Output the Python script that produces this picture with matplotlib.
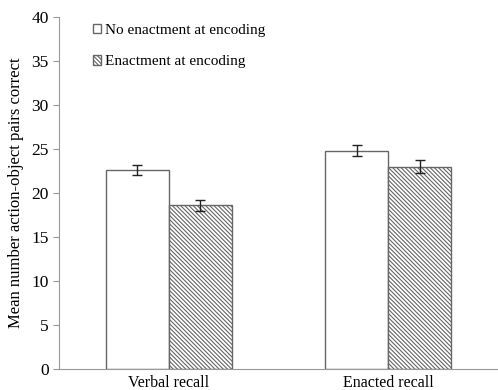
import numpy as np
import matplotlib.pyplot as plt

plt.rcParams['font.family'] = ['Liberation Serif', 'DejaVu Serif']
plt.rcParams['hatch.linewidth'] = 0.8
plt.rcParams['hatch.color'] = '#555555'

# data
categories = ['Verbal recall', 'Enacted recall']
no_enact = [22.6, 24.8]
no_enact_err = [0.6, 0.6]
enact = [18.6, 23.0]
enact_err = [0.6, 0.7]

fig = plt.figure(figsize=(4.98, 3.9), dpi=100)
ax = fig.add_axes([59/498, 21/390, 439/498, 352/390])

x = np.arange(len(categories))
w = 0.286
ax.bar(x - w/2, no_enact, w, yerr=no_enact_err, color='white', edgecolor='#666666',
       linewidth=1.0, label='No enactment at encoding',
       error_kw=dict(ecolor='#222222', elinewidth=1.0, capsize=3.5, capthick=1.0))
ax.bar(x + w/2, enact, w, yerr=enact_err, color='white', edgecolor='#666666',
       hatch='\\' * 8, linewidth=1.0, label='Enactment at encoding',
       error_kw=dict(ecolor='#222222', elinewidth=1.0, capsize=3.5, capthick=1.0))

ax.set_xlim(-0.5, 1.5)
ax.set_ylim(0, 40)
ax.set_yticks(range(0, 41, 5))
ax.set_xticks(x)
ax.set_xticklabels(categories, fontsize=11.5)
ax.tick_params(axis='x', length=0, pad=4)
ax.tick_params(axis='y', labelsize=12.5, length=4, color='#999999', direction='out')
ax.set_ylabel('Mean number action-object pairs correct', fontsize=12, labelpad=5)

for s in ['top', 'right']:
    ax.spines[s].set_visible(False)
ax.spines['left'].set_color('#999999')
ax.spines['bottom'].set_color('#999999')

ax.legend(loc='upper left', bbox_to_anchor=(0.077, 0.98), frameon=False, fontsize=11,
          handlelength=0.55, handleheight=0.55, handletextpad=0.25, labelspacing=1.2,
          borderpad=0, borderaxespad=0)

fig.savefig('out.png', dpi=100)
